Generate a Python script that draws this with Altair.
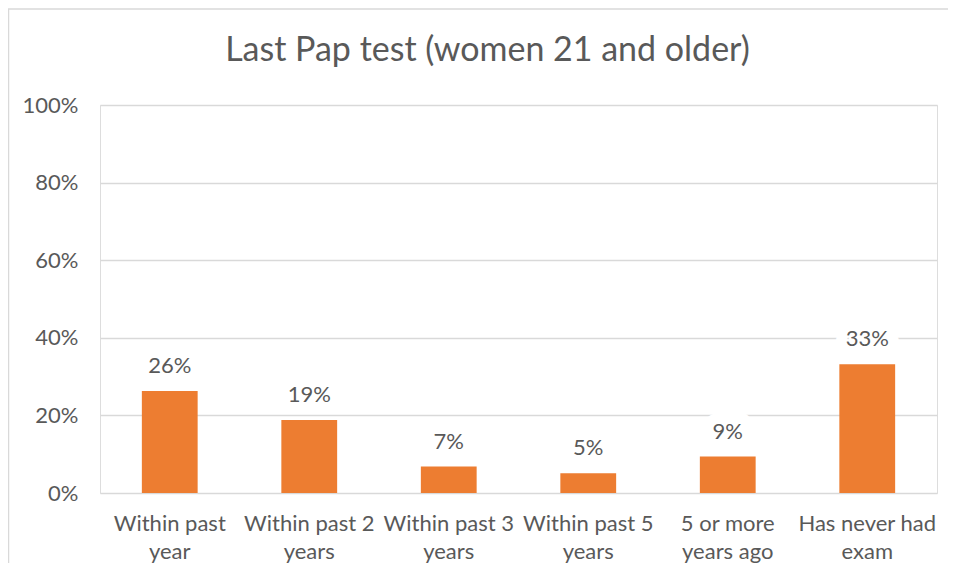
import altair as alt
import pandas as pd

categories = [
    "Within past\nyear",
    "Within past 2\nyears",
    "Within past 3\nyears",
    "Within past 5\nyears",
    "5 or more\nyears ago",
    "Has never had\nexam",
]
values = [0.263, 0.188, 0.068, 0.051, 0.094, 0.332]
y_ticks = [0, 0.2, 0.4, 0.6, 0.8, 1.0]

df = pd.DataFrame({"category": categories, "value": values})

FONT = "Lato"
TXT = "#595959"
GRID = "#D9D9D9"
ORANGE = "#ED7D31"

x_enc = alt.X(
    "category:N",
    sort=categories,
    scale=alt.Scale(paddingInner=0, paddingOuter=0),
    axis=alt.Axis(
        title=None,
        labelAngle=0,
        labelExpr="split(datum.label, '\\n')",
        labelFont=FONT,
        labelFontSize=22,
        labelColor=TXT,
        labelLineHeight=28,
        labelPadding=20,
        labelBaseline="top",
        ticks=False,
        domain=False,
        grid=False,
    ),
)
y_enc = alt.Y(
    "value:Q",
    scale=alt.Scale(domain=[0, 1]),
    axis=alt.Axis(
        title=None,
        values=y_ticks,
        format=".0%",
        labelFont=FONT,
        labelFontSize=22,
        labelColor=TXT,
        labelPadding=22,
        ticks=False,
        domain=False,
        gridColor=GRID,
        gridWidth=1.5,
    ),
)

base = alt.Chart(df)

bars = base.mark_bar(color=ORANGE, width=alt.RelativeBandSize(0.4)).encode(
    x=x_enc, y=y_enc
)

halo = base.mark_text(
    font=FONT, fontSize=22, dy=-18, baseline="alphabetic",
    fill="white", stroke="white", strokeWidth=22, strokeJoin="round",
).encode(x=x_enc, y=y_enc, text=alt.Text("value:Q", format=".0%"))

labels = base.mark_text(
    font=FONT, fontSize=22, dy=-18, baseline="alphabetic", color=TXT,
).encode(x=x_enc, y=y_enc, text=alt.Text("value:Q", format=".0%"))

border = alt.Chart(alt.Data(values=[{}])).mark_rect(
    fill=None, stroke=GRID, strokeWidth=1.5
).encode(
    x=alt.value(-91.5), x2=alt.value(3000),
    y=alt.value(-96.0), y2=alt.value(3000),
)

chart = alt.layer(border, bars, halo, labels).properties(
    width=837,
    height=388,
    padding={"left": 92, "top": 97, "right": 11, "bottom": 70},
    autosize=alt.AutoSizeParams(type="none"),
    title=alt.TitleParams(
        "Last Pap test (women 21 and older)",
        font=FONT,
        fontSize=34,
        fontWeight="normal",
        color=TXT,
        anchor="middle",
        dx=-31,
        offset=-60,
    ),
).configure_view(stroke=None).configure(background="white")

chart.save("out.html", embed_options={"renderer": "svg", "actions": False})
